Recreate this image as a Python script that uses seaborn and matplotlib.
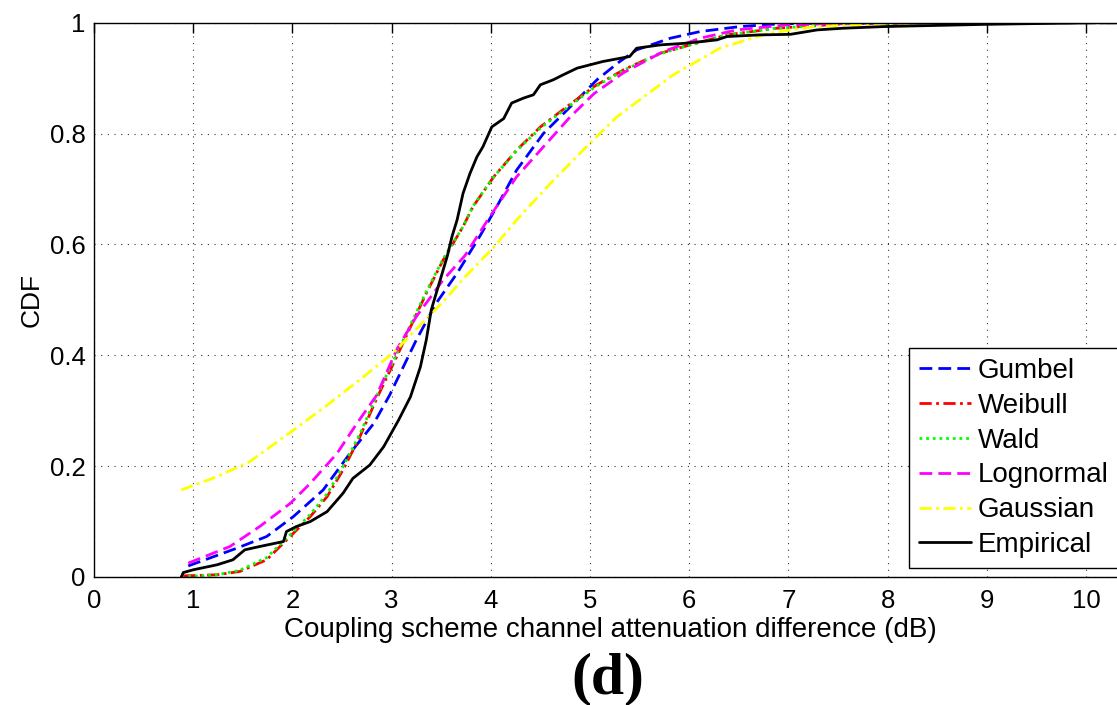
import matplotlib
matplotlib.use("Agg")
import matplotlib.pyplot as plt
import pandas as pd
import seaborn as sns

# Fitted CDFs of the coupling-scheme channel attenuation difference (dB)
gumbel_x = [0.95, 1.44, 1.74, 2.01, 2.31, 2.58, 2.82, 2.98, 3.25, 3.45, 3.66, 3.89,
            4.06, 4.26, 4.53, 4.80, 5.07, 5.30, 5.47, 5.81, 6.11, 6.51, 6.92, 7.50,
            8.50, 10.40]
gumbel_y = [0.020, 0.052, 0.073, 0.109, 0.157, 0.223, 0.277, 0.328, 0.428, 0.494,
            0.548, 0.615, 0.668, 0.734, 0.800, 0.848, 0.897, 0.930, 0.951, 0.972,
            0.984, 0.993, 0.998, 0.9995, 1.0, 1.0]

weibull_x = [0.90, 1.24, 1.47, 1.74, 2.01, 2.18, 2.35, 2.51, 2.68, 2.85, 3.05, 3.19,
             3.35, 3.52, 3.72, 3.82, 4.03, 4.26, 4.50, 4.80, 5.05, 5.36, 5.71, 6.01,
             6.38, 6.88, 7.55, 8.50, 10.40]
weibull_y = [0.002, 0.004, 0.010, 0.031, 0.079, 0.109, 0.145, 0.193, 0.253, 0.322,
             0.397, 0.451, 0.512, 0.572, 0.632, 0.668, 0.722, 0.770, 0.812, 0.853,
             0.886, 0.917, 0.945, 0.960, 0.978, 0.990, 0.998, 1.0, 1.0]

wald_x = [0.95, 1.24, 1.47, 1.74, 2.01, 2.18, 2.35, 2.51, 2.68, 2.85, 3.05, 3.19,
          3.35, 3.52, 3.72, 3.82, 4.03, 4.26, 4.50, 4.80, 5.05, 5.36, 5.71, 6.01,
          6.38, 6.88, 7.55, 8.50, 10.40]
wald_y = [0.001, 0.004, 0.012, 0.035, 0.082, 0.113, 0.150, 0.199, 0.258, 0.327,
          0.402, 0.455, 0.515, 0.574, 0.632, 0.669, 0.722, 0.769, 0.810, 0.851,
          0.884, 0.916, 0.944, 0.960, 0.978, 0.990, 0.998, 1.0, 1.0]

lognormal_x = [0.95, 1.37, 1.67, 1.98, 2.18, 2.45, 2.65, 2.85, 3.05, 3.25, 3.52,
               3.74, 3.99, 4.26, 4.50, 4.80, 5.04, 5.34, 5.74, 6.11, 6.48, 6.98,
               7.60, 8.50, 10.40]
lognormal_y = [0.025, 0.055, 0.091, 0.133, 0.169, 0.223, 0.277, 0.328, 0.410,
               0.470, 0.536, 0.580, 0.650, 0.722, 0.770, 0.830, 0.872, 0.910,
               0.948, 0.972, 0.987, 0.996, 0.999, 1.0, 1.0]

gaussian_x = [0.88, 1.24, 1.57, 2.01, 2.35, 2.68, 3.02, 3.25, 3.52, 3.76, 4.03,
              4.26, 4.60, 4.93, 5.27, 5.84, 6.31, 6.78, 7.25, 8.00, 9.00, 10.40]
gaussian_y = [0.157, 0.181, 0.208, 0.265, 0.310, 0.356, 0.405, 0.447, 0.497,
              0.545, 0.595, 0.644, 0.710, 0.770, 0.830, 0.906, 0.954, 0.980,
              0.993, 0.999, 1.0, 1.0]

# Empirical CDF of the measured samples
empirical_x = [0.88, 0.90, 1.00, 1.24, 1.40, 1.52, 1.67, 1.91, 1.94, 2.04, 2.18,
               2.35, 2.51, 2.61, 2.78, 2.92, 3.07, 3.19, 3.29, 3.35, 3.40, 3.47,
               3.56, 3.61, 3.66, 3.72, 3.79, 3.86, 3.92, 4.01, 4.13, 4.21, 4.33,
               4.43, 4.50, 4.63, 4.73, 4.87, 5.00, 5.13, 5.40, 5.47, 5.71, 5.97,
               6.28, 6.38, 6.71, 7.02, 7.29, 7.55, 7.96, 8.98, 10.07, 10.40]
empirical_y = [0.0, 0.008, 0.013, 0.022, 0.031, 0.049, 0.055, 0.064, 0.082, 0.091,
               0.100, 0.118, 0.151, 0.178, 0.202, 0.235, 0.283, 0.325, 0.379, 0.428,
               0.482, 0.524, 0.578, 0.615, 0.644, 0.692, 0.728, 0.758, 0.776, 0.812,
               0.827, 0.855, 0.864, 0.870, 0.888, 0.897, 0.906, 0.918, 0.924, 0.930,
               0.939, 0.954, 0.960, 0.963, 0.969, 0.975, 0.978, 0.979, 0.987, 0.990,
               0.993, 0.997, 1.0, 1.0]

x_ticks = [0, 1, 2, 3, 4, 5, 6, 7, 8, 9, 10]
y_ticks = [0, 0.2, 0.4, 0.6, 0.8, 1.0]
y_tick_labels = ["0", "0.2", "0.4", "0.6", "0.8", "1"]

sns.set_theme(style="white")
plt.rcParams["font.family"] = ["Liberation Sans", "DejaVu Sans"]

fig = plt.figure(figsize=(11.17, 7.05), dpi=100)
W, H = 1117, 705
ax = fig.add_axes([94 / W, 128 / H, (1135 - 94) / W, (577 - 22.7) / H])

series = [
    ("Gumbel", gumbel_x, gumbel_y, "#0000FF", (0, (4.6, 2.2))),
    ("Weibull", weibull_x, weibull_y, "#FF0000", (0, (4.4, 1.6, 1.0, 1.6))),
    ("Wald", wald_x, wald_y, "#00FF00", (0, (1.0, 1.4))),
    ("Lognormal", lognormal_x, lognormal_y, "#FF00FF", (0, (4.6, 2.2))),
    ("Gaussian", gaussian_x, gaussian_y, "#FFFF00", (0, (4.4, 1.6, 1.0, 1.6))),
    ("Empirical", empirical_x, empirical_y, "#000000", "-"),
]

for name, xs, ys, color, dash in series:
    df = pd.DataFrame({"x": xs, "y": ys})
    sns.lineplot(data=df, x="x", y="y", ax=ax, color=color, linestyle=dash,
                 linewidth=2.0, label=name, estimator=None, sort=True)

ax.set_xlim(0, (1135 - 94) / 99.2)
ax.set_ylim(0, 1)
ax.set_xticks(x_ticks)
ax.set_xticklabels([str(t) for t in x_ticks])
ax.set_yticks(y_ticks)
ax.set_yticklabels(y_tick_labels)

ax.grid(True, linestyle=(0, (1, 5)), linewidth=0.8, color="#333333")
for side in ["left", "bottom", "top", "right"]:
    ax.spines[side].set_visible(True)
    ax.spines[side].set_color("black")
    ax.spines[side].set_linewidth(1.0)

ax.tick_params(direction="in", length=7.5, width=1.0, top=True, right=True,
               labelsize=18.5, colors="black", pad=6)
ax.tick_params(axis="x", pad=9)

ax.set_xlabel("Coupling scheme channel attenuation difference (dB)", fontsize=20,
              color="black")
ax.xaxis.set_label_coords((610 - 94) / (1135 - 94), -(617 - 577) / (577 - 22.7))
ax.set_ylabel("CDF", fontsize=19, color="black")
ax.yaxis.set_label_coords(-(94 - 44) / (1135 - 94), 0.5)

leg = ax.legend(loc="upper left", mode="expand",
                bbox_to_anchor=(909 / W, 1 - 569 / H, 300 / W, 221 / H),
                bbox_transform=fig.transFigure, fontsize=20, frameon=True,
                fancybox=False, edgecolor="black", framealpha=1.0,
                borderpad=0.35, labelspacing=0.32, handlelength=1.87,
                handletextpad=0.25, borderaxespad=0)
leg.get_frame().set_linewidth(1.0)
for t in leg.get_texts():
    t.set_color("black")

fig.text(608 / W, 1 - 679 / H, "(d)", fontsize=43, fontweight="bold",
         family=["Liberation Serif", "DejaVu Serif"], ha="center", va="center",
         color="black")

fig.savefig("out.png", dpi=100)
